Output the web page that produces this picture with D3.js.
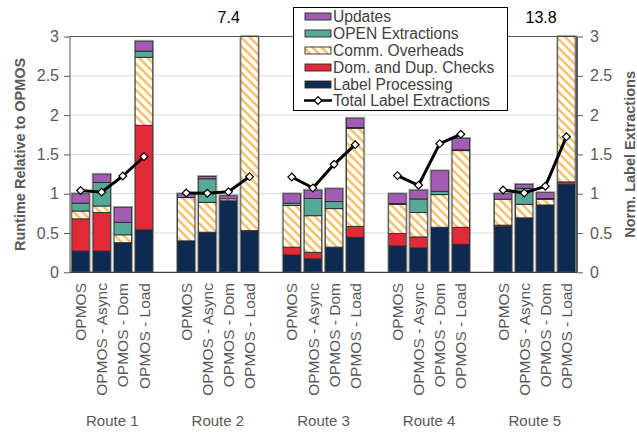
<!DOCTYPE html>
<html>
<head>
<meta charset="utf-8">
<script src="https://cdn.jsdelivr.net/npm/d3@7"></script>
<style>
  html, body { margin: 0; padding: 0; background: #fff; }
  svg { display: block; font-family: Arial, "Liberation Sans", sans-serif; }
</style>
</head>
<body>
<svg id="chart" width="637" height="433"></svg>
<script>
// Routes and the four configurations measured on each
const routes = ["Route 1", "Route 2", "Route 3", "Route 4", "Route 5"];
const variants = ["OPMOS", "OPMOS - Async", "OPMOS - Dom", "OPMOS - Load"];

// Runtime components, relative to OPMOS (route-major order, 4 variants per route)
const labelProcessing = [0.27, 0.27, 0.377, 0.54,  0.40, 0.51, 0.91, 0.52,  0.22, 0.17, 0.32, 0.445,  0.335, 0.31, 0.573, 0.356,  0.58, 0.683, 0.857, 1.12];
const domDupChecks    = [0.41, 0.49, 0.0, 1.33,    0.0, 0.0, 0.0, 0.01,     0.10, 0.085, 0.0, 0.14,   0.16, 0.14, 0.0, 0.217,     0.02, 0.01, 0.0, 0.03];
const commOverheads   = [0.10, 0.084, 0.10, 0.865, 0.55, 0.38, 0.025, 6.87, 0.53, 0.465, 0.49, 1.247, 0.37, 0.31, 0.415, 0.975,   0.33, 0.172, 0.072, 12.65];
const openExtractions = [0.10, 0.30, 0.16, 0.08,   0.0, 0.30, 0.0, 0.0,     0.03, 0.22, 0.09, 0.01,   0.01, 0.173, 0.042, 0.01,   0.0, 0.204, 0.01, 0.0];
const updates         = [0.12, 0.106, 0.19, 0.127, 0.05, 0.03, 0.04, 0.0,  0.12, 0.107, 0.164, 0.12, 0.125, 0.114, 0.263, 0.147, 0.07, 0.051, 0.075, 0.0];

// Normalised number of label extractions (right axis)
const totalLabelExtractions = [1.04, 1.02, 1.225, 1.47,  1.01, 1.005, 1.026, 1.217,  1.213, 1.073, 1.374, 1.624,  1.23, 1.107, 1.637, 1.756,  1.048, 1.01, 1.094, 1.726];

const yTicks = [0, 0.5, 1, 1.5, 2, 2.5, 3];

const seriesKeys = ["lp", "dom", "comm", "open", "upd"];
const seriesNames = {
  upd: "Updates",
  open: "OPEN Extractions",
  comm: "Comm. Overheads",
  dom: "Dom. and Dup. Checks",
  lp: "Label Processing"
};
const fills = {
  lp: "#0c2a52",
  dom: "#e02b36",
  comm: "url(#hatch)",
  open: "#55a995",
  upd: "#a25cb4"
};

// Build rows
const rows = [];
routes.forEach((r, ri) => {
  variants.forEach((v, vi) => {
    const i = ri * 4 + vi;
    rows.push({
      slot: r + "|" + v, route: r, variant: v,
      lp: labelProcessing[i], dom: domDupChecks[i], comm: commOverheads[i],
      open: openExtractions[i], upd: updates[i],
      lines: totalLabelExtractions[i]
    });
  });
});
const total = d => d.lp + d.dom + d.comm + d.open + d.upd;

// Category slots with an empty slot between routes
const slots = [];
routes.forEach((r, ri) => {
  variants.forEach(v => slots.push(r + "|" + v));
  if (ri < routes.length - 1) slots.push("gap" + ri);
});

const plotLeft = 70, plotRight = 577, plotTop = 36.5, plotBottom = 272.3;

const x = d3.scaleBand().domain(slots).range([plotLeft, plotRight])
  .paddingInner(0.17).paddingOuter(0.085);
const y = d3.scaleLinear().domain([0, 3]).range([plotBottom, plotTop]).clamp(true);
const y2 = d3.scaleLinear().domain([0, 3]).range([plotBottom, plotTop]);

const svg = d3.select("#chart");
const defs = svg.append("defs");
const pat = defs.append("pattern")
  .attr("id", "hatch").attr("patternUnits", "userSpaceOnUse")
  .attr("width", 6.2).attr("height", 6.2)
  .attr("patternTransform", "rotate(-45)");
pat.append("rect").attr("width", 6.2).attr("height", 6.2).attr("fill", "#fff");
pat.append("line").attr("x1", 1.5).attr("x2", 1.5).attr("y1", 0).attr("y2", 6.2)
  .attr("stroke", "#f4c067").attr("stroke-width", 2.5);

// Gridlines
svg.append("g").selectAll("line").data(yTicks.filter(t => t > 0 && t < 3)).join("line")
  .attr("x1", plotLeft).attr("x2", plotRight)
  .attr("y1", d => y(d)).attr("y2", d => y(d))
  .attr("stroke", "#d9d9d9").attr("stroke-width", 1);
svg.append("line").attr("x1", plotLeft).attr("x2", plotRight)
  .attr("y1", y(3)).attr("y2", y(3)).attr("stroke", "#595959").attr("stroke-width", 1.2);

// Stacked bars
const stacked = d3.stack().keys(seriesKeys)(rows);
const barG = svg.append("g");
stacked.forEach(layer => {
  barG.append("g").selectAll("rect").data(layer.filter(d => d[1] - d[0] > 0)).join("rect")
    .attr("x", d => x(d.data.slot))
    .attr("width", x.bandwidth())
    .attr("y", d => y(d[1]))
    .attr("height", d => y(d[0]) - y(d[1]))
    .attr("fill", fills[layer.key])
    .attr("stroke", "#2a2a2a").attr("stroke-width", 0.9);
});
// Outer bar outline
barG.append("g").selectAll("rect").data(rows).join("rect")
  .attr("x", d => x(d.slot) - 0.8)
  .attr("width", x.bandwidth() + 1.6)
  .attr("y", d => y(total(d)) - 0.8)
  .attr("height", d => y(0) - y(total(d)) + 0.8)
  .attr("fill", "none").attr("stroke", "#8a8a8a").attr("stroke-width", 0.8);

// Values of bars running past the axis top
const fmt = d3.format(".1f");
svg.append("g").selectAll("text")
  .data(rows.filter(d => total(d) > 3)).join("text")
  .attr("x", d => x(d.slot) - 1).attr("y", 23)
  .attr("text-anchor", "end").attr("font-size", 16).attr("fill", "#000")
  .text(d => fmt(total(d)));

// Axes
const axisColor = "#595959";
const axL = svg.append("g").attr("transform", `translate(${plotLeft},0)`)
  .call(d3.axisLeft(y).tickValues(yTicks).tickFormat(d3.format("~g")).tickSize(6).tickPadding(5));
const axR = svg.append("g").attr("transform", `translate(${plotRight},0)`)
  .call(d3.axisRight(y2).tickValues(yTicks).tickFormat(d3.format("~g")).tickSize(6).tickPadding(7));
[axL, axR].forEach(a => {
  a.select(".domain").attr("stroke", axisColor).attr("d", `M0,${plotTop}V${plotBottom}`);
  a.selectAll(".tick line").attr("stroke", axisColor);
  a.selectAll(".tick text").attr("fill", axisColor).attr("font-size", 16)
    .attr("font-family", "Arial, 'Liberation Sans', sans-serif");
});
axR.select(".domain").attr("stroke-width", 2);
svg.append("line").attr("x1", plotLeft).attr("x2", plotRight)
  .attr("y1", plotBottom).attr("y2", plotBottom).attr("stroke", "#404040").attr("stroke-width", 1.2);

// Rotated category labels
svg.append("g").selectAll("text").data(rows).join("text")
  .attr("transform", d => `translate(${x(d.slot) + x.bandwidth() / 2},283) rotate(-90)`)
  .attr("text-anchor", "end").attr("dy", "0.36em")
  .attr("font-size", 15.5).attr("fill", axisColor)
  .text(d => d.variant);

// Route labels
svg.append("g").selectAll("text").data(routes).join("text")
  .attr("x", r => (x(r + "|" + variants[0]) + x(r + "|" + variants[3]) + x.bandwidth()) / 2)
  .attr("y", 426).attr("text-anchor", "middle")
  .attr("font-size", 15).attr("fill", axisColor)
  .text(r => r);

// Axis titles
svg.append("text")
  .attr("transform", `translate(20,${(plotTop + plotBottom) / 2}) rotate(-90)`)
  .attr("text-anchor", "middle").attr("dy", "0.35em")
  .attr("font-size", 14.5).attr("font-weight", "bold").attr("fill", axisColor)
  .text("Runtime Relative to OPMOS");
svg.append("text")
  .attr("transform", `translate(630,${(plotTop + plotBottom) / 2}) rotate(-90)`)
  .attr("text-anchor", "middle").attr("dy", "0.35em")
  .attr("font-size", 14.5).attr("font-weight", "bold").attr("fill", axisColor)
  .text("Norm. Label Extractions");

// Label-extraction lines, one per route
const line = d3.line()
  .x(d => x(d.slot) + x.bandwidth() / 2)
  .y(d => y2(d.lines));
// Square markers turned 45° to form even diamonds
const marker = d3.symbol().type(d3.symbolSquare).size(30);
const lineG = svg.append("g");
routes.forEach(r => {
  const pts = rows.filter(d => d.route === r);
  lineG.append("path").datum(pts).attr("d", line)
    .attr("fill", "none").attr("stroke", "#000").attr("stroke-width", 3)
    .attr("stroke-linejoin", "round");
  lineG.append("g").selectAll("path").data(pts).join("path")
    .attr("transform", d => `translate(${x(d.slot) + x.bandwidth() / 2},${y2(d.lines)}) rotate(45)`)
    .attr("d", marker).attr("fill", "#fff").attr("stroke", "#000").attr("stroke-width", 1.2);
});

// Legend
const lg = svg.append("g");
lg.append("rect").attr("x", 293.5).attr("y", 7.5).attr("width", 214).attr("height", 103)
  .attr("fill", "#fff").attr("stroke", "#000").attr("stroke-width", 1);
const legendKeys = ["upd", "open", "comm", "dom", "lp"];
const rowY = i => 16.5 + i * 17;
legendKeys.forEach((k, i) => {
  lg.append("rect").attr("x", 305).attr("y", rowY(i) - 3.5).attr("width", 26).attr("height", 7)
    .attr("fill", fills[k]).attr("stroke", "#2a2a2a").attr("stroke-width", 0.9);
  lg.append("text").attr("x", 333).attr("y", rowY(i)).attr("dy", "0.35em")
    .attr("font-size", 15.6).attr("fill", "#404040").text(seriesNames[k]);
});
const ly = rowY(5) - 1;
lg.append("line").attr("x1", 304).attr("x2", 332).attr("y1", ly).attr("y2", ly)
  .attr("stroke", "#000").attr("stroke-width", 2.5);
lg.append("path").attr("transform", `translate(318,${ly}) rotate(45)`).attr("d", marker)
  .attr("fill", "#fff").attr("stroke", "#000").attr("stroke-width", 1.2);
lg.append("text").attr("x", 333).attr("y", ly).attr("dy", "0.35em")
  .attr("font-size", 15.6).attr("fill", "#404040").text("Total Label Extractions");
</script>
</body>
</html>
